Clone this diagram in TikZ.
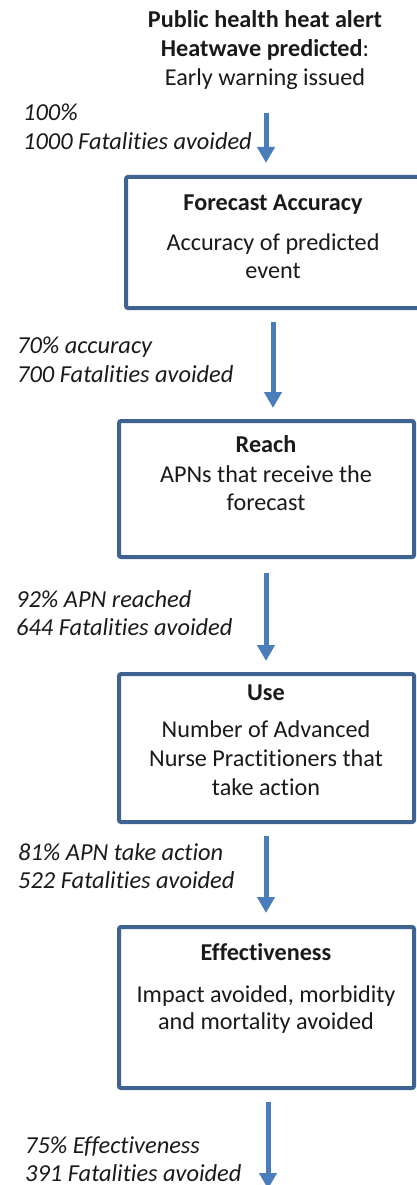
\documentclass[tikz,border=0pt]{standalone}
\usepackage{fontspec}
\setmainfont{Carlito}[Ligatures=NoCommon]
\usetikzlibrary{arrows.meta}
\definecolor{boxblue}{HTML}{3F6391}
\definecolor{arrblue}{HTML}{4A7EBB}
\definecolor{txt}{HTML}{1A1A1A}
\begin{document}
\begin{tikzpicture}[x=1pt,y=-1pt,
  boxst/.style={draw=boxblue,line width=4pt,rounded corners=2pt,fill=white,anchor=north west,inner sep=0pt},
  arr/.style={draw=arrblue,line width=5pt,-{Triangle[width=17pt,length=16pt]}},
  tx/.style={anchor=base,text=txt,inner sep=0pt,font=\fontsize{24.2}{28}\selectfont},
  hd/.style={tx,font=\fontsize{24.2}{28}\selectfont\bfseries},
  lab/.style={anchor=base west,text=txt,inner sep=0pt,font=\fontsize{24.4}{28}\selectfont\itshape}]
\useasboundingbox[fill=white] (0,0) rectangle (417,1185);
% boxes
\node[boxst,minimum width=298pt,minimum height=131pt] (b1) at (124,175) {};
\node[boxst,minimum width=295pt,minimum height=136pt] (b2) at (117,419) {};
\node[boxst,minimum width=295pt,minimum height=148pt] (b3) at (117,672) {};
\node[boxst,minimum width=295pt,minimum height=161pt] (b4) at (117,925) {};
% title
\node[hd] (t1) at (265,28) {Public health heat alert};
\node[tx] (t2) at (265,57) {\textbf{Heatwave predicted}:};
\node[tx] (t3) at (265,86) {Early warning issued};
% box texts
\node[hd] (h1) at (273,210) {Forecast Accuracy};
\node[tx] (p1a) at (273,250) {Accuracy of predicted};
\node[tx] (p1b) at (273,278) {event};
\node[hd] (h2) at (266,452) {Reach};
\node[tx] (p2a) at (266,482) {APNs that receive the};
\node[tx] (p2b) at (266,510) {forecast};
\node[hd] (h3) at (266,700) {Use};
\node[tx] (p3a) at (266,737) {Number of Advanced};
\node[tx] (p3b) at (266,766) {Nurse Practitioners that};
\node[tx] (p3c) at (266,795) {take action};
\node[hd] (h4) at (266,960) {Effectiveness};
\node[tx] (p4a) at (266,1002) {Impact avoided, morbidity};
\node[tx] (p4b) at (266,1029) {and mortality avoided};
% labels
\node[lab] (l0a) at (23,121) {100\%};
\node[lab] (l0b) at (23,150) {1000 Fatalities avoided};
\node[lab] (l1a) at (17,353) {70\% accuracy};
\node[lab] (l1b) at (17,382) {700 Fatalities avoided};
\node[lab] (l2a) at (16,607) {92\% APN reached};
\node[lab] (l2b) at (16,635) {644 Fatalities avoided};
\node[lab] (l3a) at (18,860) {81\% APN take action};
\node[lab] (l3b) at (18,888) {522 Fatalities avoided};
\node[lab] (l4a) at (25,1153) {75\% Effectiveness};
\node[lab] (l4b) at (25,1181) {391 Fatalities avoided};
% arrows
\coordinate (s0) at (266,113);
\coordinate (e4) at (268,1189);
\draw[arr] (s0) -- (s0 |- b1.north) [shorten >=12pt];
\draw[arr,shorten <=12pt,shorten >=11pt] (b1.south -| 273,0) -- (b2.north -| 273,0);
\draw[arr,shorten <=14pt,shorten >=11pt] (b2.south -| 266,0) -- (b3.north -| 266,0);
\draw[arr,shorten <=12pt,shorten >=12pt] (b3.south -| 266,0) -- (b4.north -| 266,0);
\draw[arr,shorten <=12pt] (b4.south -| e4) -- (e4);
\end{tikzpicture}
\end{document}
